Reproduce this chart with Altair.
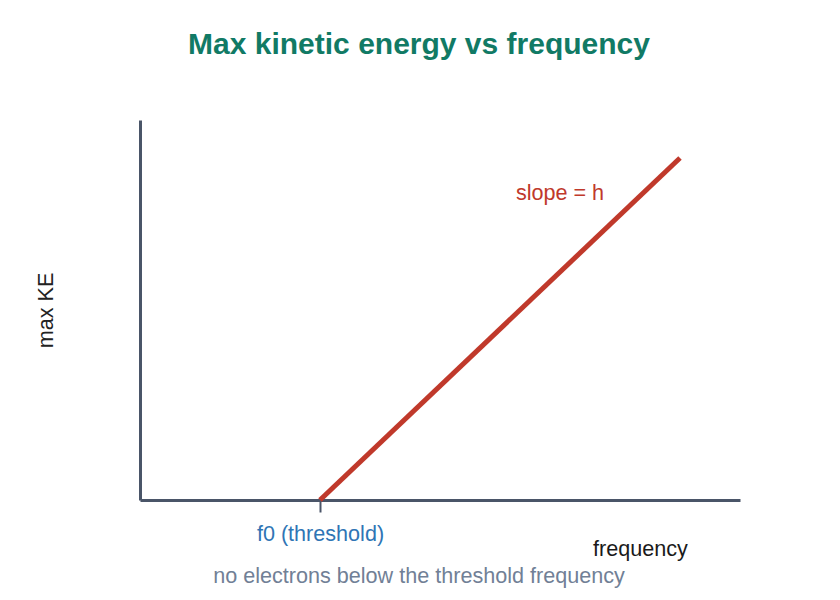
import altair as alt
import pandas as pd

# data
line_x = [3, 9]
line_y = [0, 9]
tick_values = [3]
tick_label = "f0 (threshold)"
slope_text = ["slope = h"]
slope_x = [7.0]
slope_y = [8.05]
note_text = ["no electrons below the threshold frequency"]
note_x = [4.65]
note_y = [-2.03]

FONT = "Liberation Sans"
AXIS_COLOR = "#4a5568"
RED = "#c0392b"
FS = 21.6

xs = alt.Scale(domain=[0, 10], nice=False, zero=False)
ys = alt.Scale(domain=[0, 10], nice=False, zero=False)

line_df = pd.DataFrame({"x": line_x, "y": line_y})
slope_df = pd.DataFrame({"x": slope_x, "y": slope_y, "t": slope_text})
note_df = pd.DataFrame({"x": note_x, "y": note_y, "t": note_text})

line = alt.Chart(line_df).mark_line(color=RED, strokeWidth=5, clip=False).encode(
    x=alt.X("x:Q", scale=xs, axis=alt.Axis(
        values=tick_values, labelExpr=f"'{tick_label}'", grid=False,
        domainColor=AXIS_COLOR, domainWidth=3, tickColor=AXIS_COLOR, tickWidth=2,
        tickSize=12, labelColor="#2f75b5", labelFontSize=FS, labelFont=FONT,
        labelPadding=11, title="frequency", titleFontSize=FS, titleFont=FONT,
        titleFontWeight="normal", titleColor="#1a1a1a", titleX=500, titleY=55,
        titleAnchor="middle", titleBaseline="alphabetic")),
    y=alt.Y("y:Q", scale=ys, axis=alt.Axis(
        labels=False, ticks=False, grid=False, domainColor=AXIS_COLOR, domainWidth=3,
        title="max KE", titleFontSize=FS, titleFont=FONT, titleFontWeight="normal",
        titleColor="#222222", titlePadding=83)),
)

slope = alt.Chart(slope_df).mark_text(color=RED, fontSize=FS, font=FONT, align="center",
                                      baseline="middle").encode(
    x=alt.X("x:Q", scale=xs), y=alt.Y("y:Q", scale=ys), text="t:N")

note = alt.Chart(note_df).mark_text(color="#718096", fontSize=FS, font=FONT, align="center",
                                    baseline="middle", clip=False).encode(
    x=alt.X("x:Q", scale=xs), y=alt.Y("y:Q", scale=ys), text="t:N")

chart = alt.layer(line, slope, note).properties(
    width=600, height=380,
    title=alt.TitleParams("Max kinetic energy vs frequency", fontSize=30, font=FONT,
                          fontWeight="bold", color="#117a65", anchor="middle", dx=-21,
                          offset=60),
    autosize=alt.AutoSizeParams(type="none"),
    padding={"left": 132, "top": 112, "right": 92, "bottom": 92},
).configure(font=FONT).configure_view(stroke=None, strokeWidth=0)

chart.save("out.html", embed_options={"renderer": "svg", "actions": False})
